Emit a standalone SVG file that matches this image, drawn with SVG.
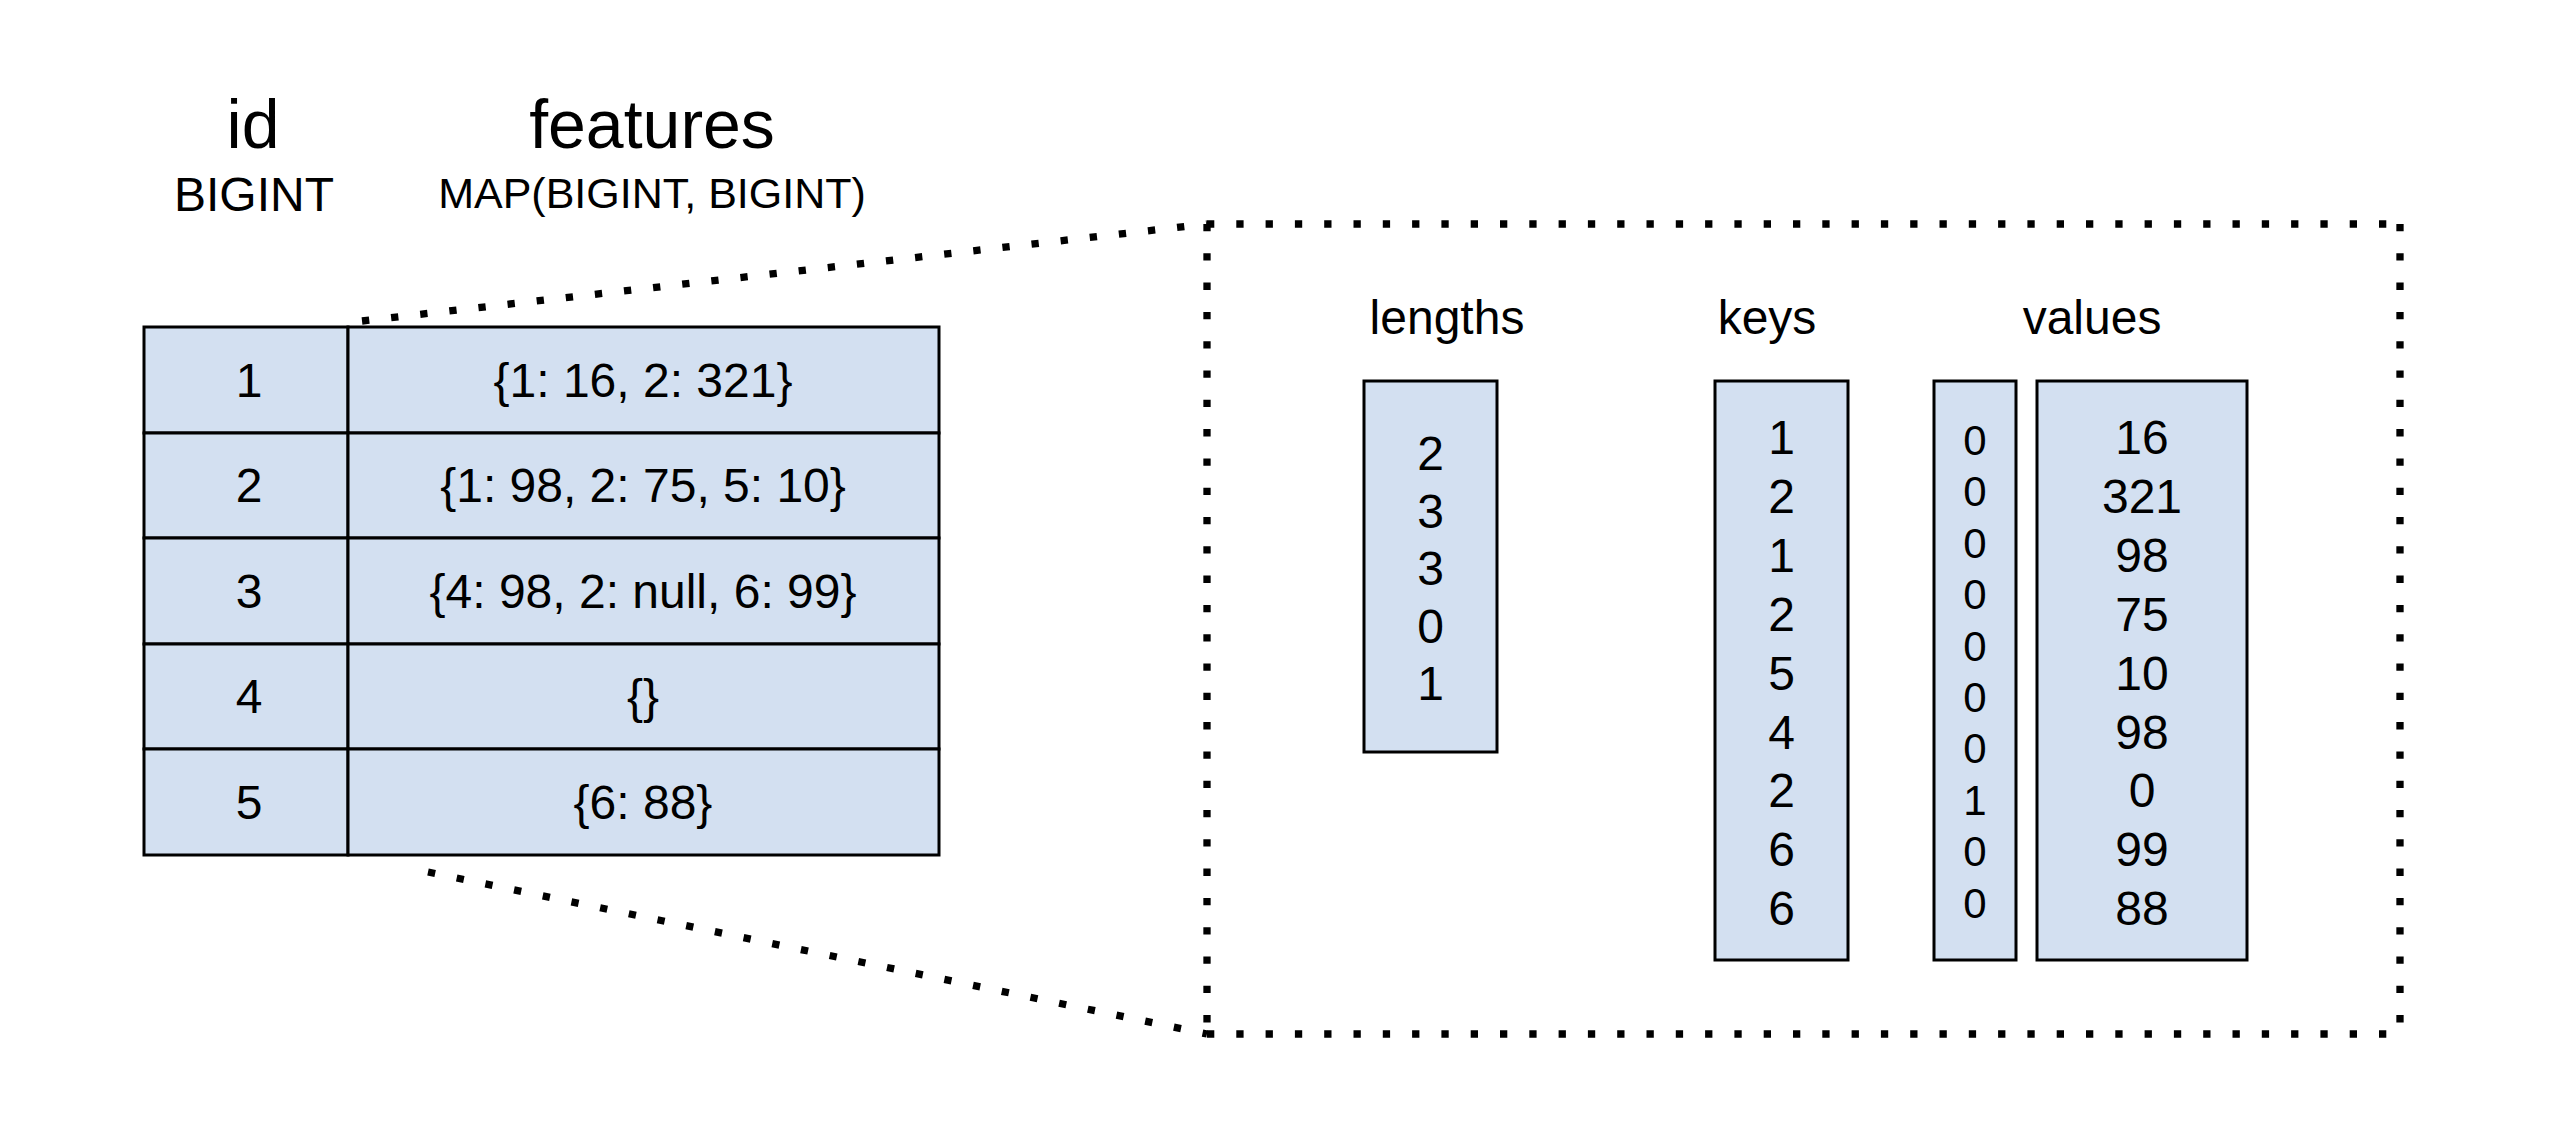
<svg xmlns="http://www.w3.org/2000/svg" width="2574" height="1140" viewBox="0 0 2574 1140">
<style>
text{font-family:"Liberation Sans",Arial,sans-serif;fill:#000;text-anchor:middle}
.hdr{font-size:68px}
.typ{font-size:48px}
.map{font-size:43px}
.cell{font-size:48px}
.lbl{font-size:48px}
.num{font-size:48px}
.nul{font-size:42px}
.box{fill:#d3e0f1;stroke:#000;stroke-width:3}
.dot{fill:none;stroke:#000;stroke-width:7.3;stroke-dasharray:7.3 22;stroke-linecap:butt}
</style>
<rect width="2574" height="1140" fill="#fff"/>
<g id="headers">
<text class="hdr" x="253" y="148">id</text>
<text class="typ" x="254" y="211">BIGINT</text>
<text class="hdr" x="652" y="148">features</text>
<text class="map" x="652" y="208">MAP(BIGINT, BIGINT)</text>
</g>
<g id="connectors">
<path class="dot" d="M362 321 L1207 224"/>
<path class="dot" d="M428 872 L1207 1034"/>
<path class="dot" d="M1207 224 L2400 224"/>
<path class="dot" d="M2400 224 L2400 1034"/>
<path class="dot" d="M1207 224 L1207 1034"/>
<path class="dot" d="M1207 1034 L2400 1034"/>
</g>
<g id="table">
<g id="row1">
<rect class="box" x="144" y="327" width="204" height="106"/>
<rect class="box" x="348" y="327" width="591" height="106"/>
<text class="cell" x="249" y="397">1</text>
<text class="cell" x="643" y="397">{1: 16, 2: 321}</text>
</g>
<g id="row2">
<rect class="box" x="144" y="433" width="204" height="105"/>
<rect class="box" x="348" y="433" width="591" height="105"/>
<text class="cell" x="249" y="502">2</text>
<text class="cell" x="643" y="502">{1: 98, 2: 75, 5: 10}</text>
</g>
<g id="row3">
<rect class="box" x="144" y="538" width="204" height="106"/>
<rect class="box" x="348" y="538" width="591" height="106"/>
<text class="cell" x="249" y="608">3</text>
<text class="cell" x="643" y="608">{4: 98, 2: null, 6: 99}</text>
</g>
<g id="row4">
<rect class="box" x="144" y="644" width="204" height="105"/>
<rect class="box" x="348" y="644" width="591" height="105"/>
<text class="cell" x="249" y="713">4</text>
<text class="cell" x="643" y="713">{}</text>
</g>
<g id="row5">
<rect class="box" x="144" y="749" width="204" height="106"/>
<rect class="box" x="348" y="749" width="591" height="106"/>
<text class="cell" x="249" y="819">5</text>
<text class="cell" x="643" y="819">{6: 88}</text>
</g>
</g>
<g id="lengths">
<text class="lbl" x="1447" y="334">lengths</text>
<rect class="box" x="1364" y="381" width="133" height="371"/>
<text class="num"><tspan x="1430.5" y="470">2</tspan><tspan x="1430.5" y="527.5">3</tspan><tspan x="1430.5" y="585">3</tspan><tspan x="1430.5" y="642.5">0</tspan><tspan x="1430.5" y="700">1</tspan></text>
</g>
<g id="keys">
<text class="lbl" x="1767" y="334">keys</text>
<rect class="box" x="1715" y="381" width="133" height="579"/>
<text class="num"><tspan x="1781.5" y="454">1</tspan><tspan x="1781.5" y="512.9">2</tspan><tspan x="1781.5" y="571.8">1</tspan><tspan x="1781.5" y="630.7">2</tspan><tspan x="1781.5" y="689.6">5</tspan><tspan x="1781.5" y="748.5">4</tspan><tspan x="1781.5" y="807.4">2</tspan><tspan x="1781.5" y="866.3">6</tspan><tspan x="1781.5" y="925.2">6</tspan></text>
</g>
<g id="nulls">
<rect class="box" x="1934" y="381" width="82" height="579"/>
<text class="nul"><tspan x="1975" y="455">0</tspan><tspan x="1975" y="506.4">0</tspan><tspan x="1975" y="557.8">0</tspan><tspan x="1975" y="609.2">0</tspan><tspan x="1975" y="660.6">0</tspan><tspan x="1975" y="712">0</tspan><tspan x="1975" y="763.4">0</tspan><tspan x="1975" y="814.8">1</tspan><tspan x="1975" y="866.2">0</tspan><tspan x="1975" y="917.6">0</tspan></text>
</g>
<g id="values">
<text class="lbl" x="2092" y="334">values</text>
<rect class="box" x="2037" y="381" width="210" height="579"/>
<text class="num"><tspan x="2142" y="454">16</tspan><tspan x="2142" y="512.9">321</tspan><tspan x="2142" y="571.8">98</tspan><tspan x="2142" y="630.7">75</tspan><tspan x="2142" y="689.6">10</tspan><tspan x="2142" y="748.5">98</tspan><tspan x="2142" y="807.4">0</tspan><tspan x="2142" y="866.3">99</tspan><tspan x="2142" y="925.2">88</tspan></text>
</g>
</svg>
